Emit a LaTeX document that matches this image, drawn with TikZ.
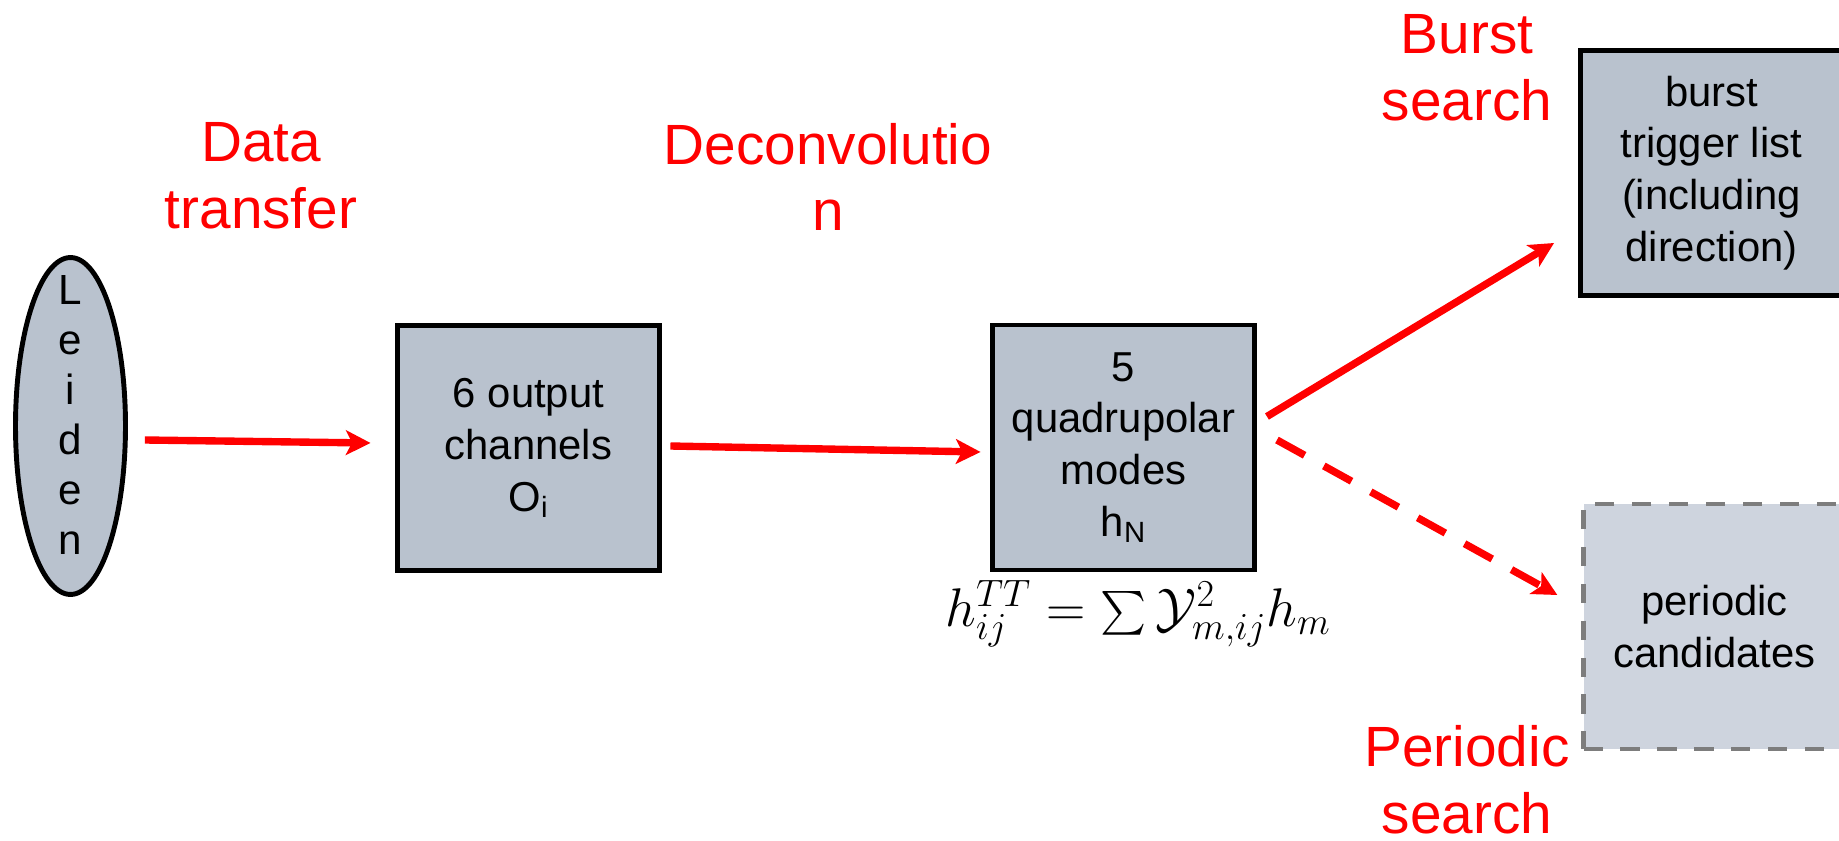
\documentclass[tikz,border=0pt]{standalone}
\usepackage{fix-cm}
\usepackage[no-math]{fontspec}
\setmainfont{Liberation Sans}
\usepackage{amsmath}
\usetikzlibrary{arrows.meta,positioning,calc,shapes.geometric}
\definecolor{boxblue}{RGB}{185,194,206}
\definecolor{paleblue}{RGB}{206,212,222}
\definecolor{labred}{RGB}{255,0,0}
\definecolor{dashgray}{RGB}{125,125,125}

\begin{document}
\begin{tikzpicture}[
  x=0.02cm, y=-0.02cm,
  modebox/.style={draw=black, line width=2.8pt, fill=boxblue, minimum width=5.24cm, minimum height=4.9cm, align=center, inner sep=0pt, font=\fontsize{23.8}{29.5}\selectfont},
  candbox/.style={modebox, draw=dashgray, line width=2.5pt, dash pattern=on 11pt off 10pt, fill=paleblue},
  steplab/.style={text=labred, align=center, inner sep=0pt, font=\fontsize{32.3}{38}\selectfont},
  flow/.style={draw=labred, line width=4.2pt, -{Stealth[length=14pt, width=14pt, inset=3.5pt]}},
  maybeflow/.style={flow, dash pattern=on 18pt off 12.5pt}
]
\useasboundingbox (0,0) rectangle (1839,841);
\node[ellipse, draw=black, line width=2.8pt, fill=boxblue, minimum width=2.2cm, minimum height=6.74cm, inner sep=0pt] (leiden) at (70.5,426) {};
\node[align=center, inner sep=0pt, font=\fontsize{24}{28.5}\selectfont] (leidentext) at (70.5,415) {L\\e\\i\\d\\e\\n};
\node[modebox] (chan) at (528.5,448) {6 output\\channels\\O\textsubscript{i}};
\node[modebox] (modes) at (1123.5,447.5) {5\\quadrupolar\\modes\\h\textsubscript{N}};
\node[modebox] (burst) at (1711.5,173) {burst\\trigger list\\(including\\direction)};
\node[candbox] (cand) at (1714.5,626.5) {periodic\\candidates};
\node[inner sep=0pt, font=\fontsize{31}{37}\selectfont] (tt) at (1138,614) {$h_{ij}^{TT} = \sum \mathcal{Y}^2_{m,ij} h_m$};
\node[steplab] (transfer) at (261,176) {Data\\transfer};
\node[steplab] (deconv) at (828,177) {Deconvolutio\\n};
\node[steplab] (burstlab) at (1467,68) {Burst\\search};
\node[steplab] (perlab) at (1467,780) {Periodic\\search};
\draw[flow] ([shift={(17,14)}]leiden.east) -- ([shift={(-24.5,-5)}]chan.west);
\draw[flow] ([shift={(8.5,-2)}]chan.east) -- ([shift={(-9.5,4.5)}]modes.west);
\draw[flow] ([shift={(10,-31)}]modes.east) -- ([shift={(-24,70)}]burst.west);
\draw[maybeflow] ([shift={(20,-7.5)}]modes.east) -- ([shift={(-24,-31.5)}]cand.west);
\end{tikzpicture}
\end{document}
